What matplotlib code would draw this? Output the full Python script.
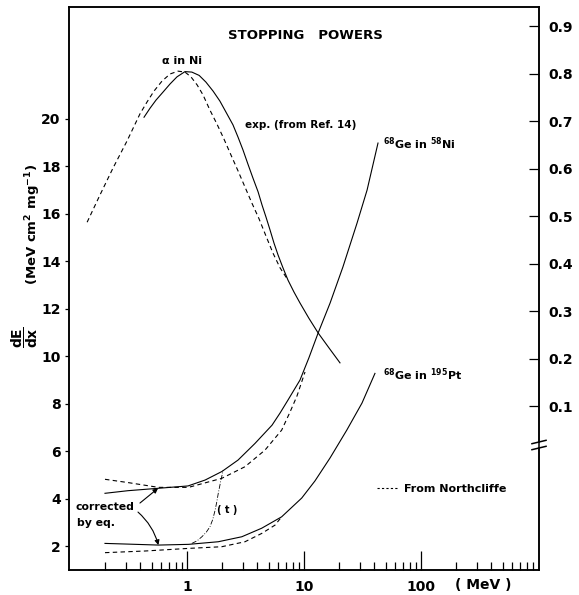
import numpy as np
import matplotlib
matplotlib.use("Agg")
import matplotlib.pyplot as plt
from matplotlib.lines import Line2D
from matplotlib.ticker import FixedLocator, NullFormatter, FixedFormatter

plt.rcParams['font.family'] = 'DejaVu Sans'
plt.rcParams['font.weight'] = 'bold'
plt.rcParams['mathtext.default'] = 'bf'

# alpha in Ni (right axis), energy in MeV
alpha_exp_e = [0.429, 0.483, 0.543, 0.624, 0.716, 0.821, 0.961, 1.10, 1.27, 1.45,
               1.67, 1.91, 2.15, 2.47, 2.73, 3.01, 3.32, 3.66, 4.05, 4.38, 4.73,
               5.12, 5.54, 6.00, 6.61, 7.30, 8.21, 9.24, 11.0, 13.2, 16.4, 20.3]
alpha_exp_s = [0.708, 0.727, 0.744, 0.761, 0.778, 0.793, 0.804, 0.803, 0.796, 0.782,
               0.763, 0.742, 0.719, 0.692, 0.666, 0.639, 0.609, 0.580, 0.551, 0.523,
               0.498, 0.471, 0.443, 0.418, 0.391, 0.365, 0.340, 0.317, 0.285, 0.254,
               0.222, 0.191]
alpha_nc_e = [0.140, 0.180, 0.233, 0.307, 0.396, 0.455, 0.522, 0.611, 0.716, 0.838,
              0.961, 1.08, 1.22, 1.37, 1.57, 1.80, 2.07, 2.38, 2.73, 3.13, 3.59,
              4.13, 4.73, 5.43, 6.24, 7.30]
alpha_nc_s = [0.487, 0.544, 0.601, 0.658, 0.715, 0.740, 0.763, 0.784, 0.799, 0.805,
              0.803, 0.793, 0.776, 0.755, 0.723, 0.694, 0.662, 0.628, 0.595, 0.561,
              0.527, 0.494, 0.458, 0.422, 0.391, 0.365]

# 68Ge in 58Ni (left axis)
geni_e = [0.199, 0.313, 0.565, 1.02, 1.43, 1.99, 2.73, 3.81, 5.33, 6.24, 7.30,
          9.24, 11.0, 13.2, 16.7, 21.5, 28.4, 34.6, 42.9]
geni_s = [4.22, 4.33, 4.43, 4.53, 4.78, 5.14, 5.62, 6.32, 7.09, 7.60, 8.15,
          8.99, 9.92, 10.97, 12.23, 13.75, 15.60, 16.99, 18.97]
geni_nc_e = [0.199, 0.315, 0.569, 1.03, 1.98, 3.13, 4.64, 6.44, 7.59, 8.71, 10.2]
geni_nc_s = [4.81, 4.67, 4.47, 4.47, 4.85, 5.34, 6.04, 6.88, 7.64, 8.32, 9.33]

# 68Ge in 195Pt (left axis)
gept_e = [0.199, 0.315, 0.569, 1.03, 1.85, 2.94, 4.35, 6.44, 9.56, 12.4, 16.7,
          23.2, 31.3, 40.4]
gept_s = [2.11, 2.08, 2.04, 2.07, 2.18, 2.39, 2.75, 3.23, 4.02, 4.74, 5.71,
          6.88, 8.02, 9.27]
gept_nc_e = [0.199, 0.438, 1.03, 1.98, 3.13, 4.35, 5.65, 6.44]
gept_nc_s = [1.72, 1.79, 1.90, 1.97, 2.18, 2.53, 2.88, 3.23]

# (t) curve
t_e = [1.10, 1.22, 1.34, 1.46, 1.57, 1.66, 1.74, 1.80, 1.85, 1.95, 2.04]
t_s = [2.11, 2.22, 2.39, 2.58, 2.81, 3.12, 3.52, 3.88, 4.22, 4.78, 5.20]

left_ticks = [2, 4, 6, 8, 10, 12, 14, 16, 18, 20]
right_ticks = [0.1, 0.2, 0.3, 0.4, 0.5, 0.6, 0.7, 0.8, 0.9]
x_major = [1, 10, 100]
x_labels = ['1', '10', '100']

fig = plt.figure(figsize=(5.79, 5.95), dpi=100)
ax = fig.add_axes([69/579, 25/595, 470/579, 563/595])
ax2 = ax.twinx()

lw = 0.8
dash = (4, 3)
ax.plot(geni_e, geni_s, color='k', lw=lw)
ax.plot(geni_nc_e, geni_nc_s, color='k', lw=lw, ls=(0, dash))
ax.plot(gept_e, gept_s, color='k', lw=lw)
ax.plot(gept_nc_e, gept_nc_s, color='k', lw=lw, ls=(0, dash))
ax.plot(t_e, t_s, color='k', lw=0.6, ls=(0, (6, 2, 1, 2)))
ax2.plot(alpha_exp_e, alpha_exp_s, color='k', lw=lw)
ax2.plot(alpha_nc_e, alpha_nc_s, color='k', lw=lw, ls=(0, dash))

ax.set_xscale('log')
ax.set_xlim(0.098, 1020)
ax.set_ylim(0.99, 24.7)
ax2.set_ylim(-0.245, 0.94)

for a in (ax, ax2):
    for s in a.spines.values():
        s.set_linewidth(1.1)
ax2.spines['right'].set_visible(False)

ax.xaxis.set_major_locator(FixedLocator(x_major))
ax.xaxis.set_major_formatter(FixedFormatter(x_labels))
minor = [m * d for d in (0.1, 1, 10, 100) for m in range(2, 10)]
ax.xaxis.set_minor_locator(FixedLocator(minor))
ax.xaxis.set_minor_formatter(NullFormatter())
ax.tick_params(axis='x', which='major', direction='in', length=14, width=0.9,
               pad=7, labelsize=10)
ax.tick_params(axis='x', which='minor', direction='in', length=6, width=0.9)

ax.set_yticks(left_ticks)
ax.tick_params(axis='y', direction='out', length=3, width=0.9, pad=3, labelsize=10)
ax2.set_yticks(right_ticks)
ax2.tick_params(axis='y', direction='in', length=7, width=0.9, pad=7, labelsize=10)
ax2.set_yticklabels([f'{v:.1f}' for v in right_ticks])

# right spine with a break
lo, hi = (570 - 448) / 563, (570 - 442) / 563
kw = dict(transform=ax.transAxes, color='k', lw=1.1, clip_on=False)
ax.plot([1, 1], [0, lo], **kw)
ax.plot([1, 1], [hi, 1], **kw)
ax.plot([0.985, 1.015], [lo - 0.003, lo + 0.003], **kw)
ax.plot([0.985, 1.015], [hi - 0.003, hi + 0.003], **kw)

# labels
ax.text(0.504, 0.950, 'STOPPING   POWERS', transform=ax.transAxes,
        ha='center', va='center', fontsize=9.5)
ax.text(0.240, 0.904, 'α in Ni', transform=ax.transAxes,
        ha='center', va='center', fontsize=8)
ax.text(0.374, 0.790, 'exp. (from Ref. 14)', transform=ax.transAxes,
        ha='left', va='center', fontsize=7.5)
ax.text(0.668, 0.757, r'$^{68}$Ge in $^{58}$Ni', transform=ax.transAxes,
        ha='left', va='center', fontsize=8)
ax.text(0.668, 0.347, r'$^{68}$Ge in $^{195}$Pt', transform=ax.transAxes,
        ha='left', va='center', fontsize=8)
ax.text(0.336, 0.107, '( t )', transform=ax.transAxes,
        ha='center', va='center', fontsize=7)
ax.text(0.013, 0.112, 'corrected', transform=ax.transAxes,
        ha='left', va='center', fontsize=7.8)
ax.text(0.017, 0.083, 'by eq.', transform=ax.transAxes,
        ha='left', va='center', fontsize=7.8)
ax.text(0.881, -0.027, '( MeV )', transform=ax.transAxes,
        ha='center', va='center', fontsize=10)

arrow = dict(arrowstyle='-|>', lw=0.8, color='k', mutation_scale=7, shrinkA=0, shrinkB=0)
ax.annotate('', xy=(geni_e[2], geni_s[2]), xytext=(0.396, 3.81), arrowprops=arrow)
ax.annotate('', xy=(gept_e[2], gept_s[2]), xytext=(0.381, 3.43),
            arrowprops=dict(arrow, connectionstyle='arc3,rad=-0.15'))

ax.legend(handles=[Line2D([], [], color='k', lw=lw, ls=(0, (2, 2)))],
          labels=['From Northcliffe'], loc='center left',
          bbox_to_anchor=(0.635, 0.144), frameon=False, handlelength=1.8,
          handletextpad=0.6, prop={'size': 8, 'weight': 'bold'})

fig.text(33/579, 1 - 224/595, r'(MeV cm$^{2}$ mg$^{-1}$)',
         rotation=90, ha='center', va='center', fontsize=9.5)
fig.text(25/579, 1 - 337/595, r'$\dfrac{dE}{dx}$',
         rotation=90, ha='center', va='center', fontsize=10)

fig.savefig('out.png', dpi=100)
